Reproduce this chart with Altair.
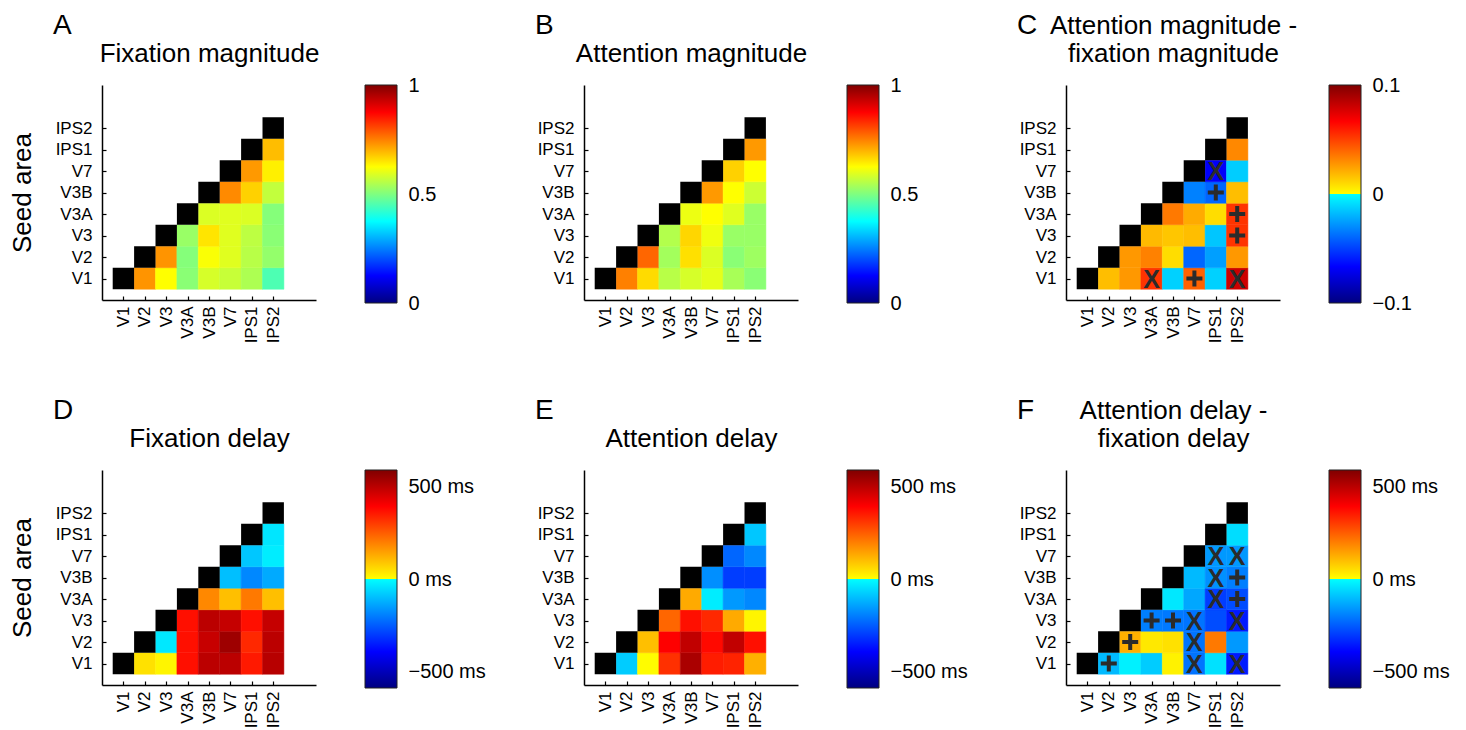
import altair as alt
import pandas as pd

FONT = "Liberation Sans"

areas = ["V1", "V2", "V3", "V3A", "V3B", "V7", "IPS1", "IPS2"]

# Row r (V1 = 0, upward) holds the values for the columns r+1 .. IPS2
fix_mag = [
    [0.73, 0.625, 0.51, 0.585, 0.57, 0.545, 0.45],
    [0.73, 0.505, 0.62, 0.595, 0.555, 0.52],
    [0.525, 0.65, 0.595, 0.56, 0.51],
    [0.59, 0.595, 0.59, 0.505],
    [0.74, 0.67, 0.565],
    [0.725, 0.64],
    [0.69],
]
att_mag = [
    [0.75, 0.66, 0.555, 0.585, 0.60, 0.54, 0.51],
    [0.775, 0.535, 0.655, 0.59, 0.51, 0.53],
    [0.55, 0.665, 0.61, 0.525, 0.525],
    [0.607, 0.625, 0.595, 0.525],
    [0.725, 0.625, 0.575],
    [0.67, 0.625],
    [0.725],
]
diff_mag = [
    [0.017, 0.027, 0.053, -0.012, 0.041, -0.012, 0.080],
    [0.027, 0.033, 0.009, -0.040, -0.025, 0.027],
    [0.018, 0.015, 0.017, -0.015, 0.053],
    [0.035, 0.022, 0.009, 0.053],
    [-0.033, -0.040, 0.017],
    [-0.068, -0.013],
    [0.031],
]
fix_delay = [
    [47, 16, 370, 498, 498, 355, 505],
    [-35, 370, 480, 543, 332, 498],
    [370, 498, 483, 370, 483],
    [184, 98, 207, 98],
    [-98, -184, -131],
    [-87, -28],
    [-39],
]
att_delay = [
    [-79, 5, 320, 525, 350, 340, 122],
    [98, 395, 490, 380, 490, 370],
    [236, 370, 332, 131, 16],
    [131, -28, -157, -184],
    [-173, -300, -300],
    [-236, -184],
    [-87],
]
diff_delay = [
    [-106, -22, -79, 20, -215, -47, -354],
    [122, 35, 47, -215, 207, -157],
    [-197, -207, -215, -276, -354],
    [-35, -135, -300, -276],
    [-106, -170, -197],
    [-157, -157],
    [-53],
]

# significance markers: (seed row, column, symbol)
marks_mag = [
    ("V1", "V3A", "X"), ("V1", "V7", "+"), ("V1", "IPS2", "X"),
    ("V3", "IPS2", "+"), ("V3A", "IPS2", "+"), ("V3B", "IPS1", "+"),
    ("V7", "IPS1", "X"),
]
marks_delay = [
    ("V1", "V2", "+"), ("V1", "V7", "X"), ("V1", "IPS2", "X"),
    ("V2", "V3", "+"), ("V2", "V7", "X"),
    ("V3", "V3A", "+"), ("V3", "V3B", "+"), ("V3", "V7", "X"), ("V3", "IPS2", "X"),
    ("V3A", "IPS1", "X"), ("V3A", "IPS2", "+"),
    ("V3B", "IPS1", "X"), ("V3B", "IPS2", "+"),
    ("V7", "IPS1", "X"), ("V7", "IPS2", "X"),
]

JET_COLORS = ["#000080", "#0000ff", "#00ffff", "#ffff00", "#ff0000", "#800000"]
JET_POS = [0, 0.125, 0.375, 0.625, 0.875, 1]
SPLIT_POS = [0, 1 / 6, 0.4999999, 0.5, 5 / 6, 1]

HW, HH = 214, 215
CB_W, CB_H = 32, 218
CB_CELL = 170          # colour-bar cell width (bar + room before next panel)
CB_LAST = 90           # last column: only the labels follow
PLUS = "M-0.25,-1H0.25V-0.25H1V0.25H0.25V1H-0.25V0.25H-1V-0.25H-0.25Z"

label_expr = "[" + ",".join("'%s'" % a for a in areas) + "][datum.value - 1]"


def heat(vals, lo, hi, pos, letter, title, seed_title, marks, letter_offset):
    cells = []
    for r, rowvals in enumerate(vals):
        for k, v in enumerate(rowvals):
            c = r + 1 + k
            cells.append(dict(x0=c + 0.5, x1=c + 1.5, y0=r + 0.5, y1=r + 1.5, v=v))
    cells = pd.DataFrame(cells)
    diag = pd.DataFrame(
        [dict(x0=i + 0.5, x1=i + 1.5, y0=i + 0.5, y1=i + 1.5) for i in range(len(areas))]
    )
    xs = alt.Scale(domain=[0, 10], nice=False, zero=False)
    ys = alt.Scale(domain=[0, 10], nice=False, zero=False)
    cscale = alt.Scale(domain=[lo + p * (hi - lo) for p in pos], range=JET_COLORS, interpolate="rgb")
    ticks = list(range(1, len(areas) + 1))

    yaxis_kw = dict(
        orient="left", values=ticks, labelExpr=label_expr, ticks=False, tickSize=0, grid=False,
        domainColor="black", domainWidth=1.5, labelFontSize=17, labelPadding=10,
        labelColor="black",
    )
    if seed_title:
        yaxis_kw.update(title=seed_title, titleFontSize=26, titlePadding=20, titleFontWeight="normal",
                        titleColor="black")
    else:
        yaxis_kw.update(title=None)

    base_cells = alt.Chart(cells).mark_rect(strokeWidth=0.5).encode(
        x=alt.X("x0:Q", scale=xs, axis=alt.Axis(
            orient="bottom", values=ticks, labelExpr=label_expr, labelAngle=-90,
            ticks=False, tickSize=0, grid=False, title=None, domainColor="black", domainWidth=1.5,
            labelFontSize=17, labelPadding=6, labelColor="black")),
        x2="x1:Q",
        y=alt.Y("y0:Q", scale=ys, axis=alt.Axis(**yaxis_kw)),
        y2="y1:Q",
        color=alt.Color("v:Q", scale=cscale, legend=None),
        stroke=alt.Stroke("v:Q", scale=cscale, legend=None),
    )
    base_diag = alt.Chart(diag).mark_rect(color="black").encode(
        x=alt.X("x0:Q", scale=xs, axis=None), x2="x1:Q",
        y=alt.Y("y0:Q", scale=ys, axis=None), y2="y1:Q",
    )
    title_layer = alt.Chart(diag).mark_rect(opacity=0).encode(
        x=alt.X("x0:Q", scale=xs, axis=alt.Axis(
            orient="top", labels=False, ticks=False, domain=False, grid=False,
            title=title, titleFontSize=26, titlePadding=19, titleFontWeight="normal",
            titleColor="black", titleLineHeight=28)),
        x2="x1:Q",
        y=alt.Y("y0:Q", scale=ys, axis=None), y2="y1:Q",
    )
    tick_layer = alt.Chart(diag).mark_rect(opacity=0).encode(
        x=alt.X("x0:Q", scale=xs, axis=alt.Axis(
            orient="bottom", offset=-4, values=ticks, labels=False, domain=False,
            grid=False, ticks=True, tickSize=4, tickColor="black", tickWidth=1.2, title=None)),
        x2="x1:Q",
        y=alt.Y("y0:Q", scale=ys, axis=alt.Axis(
            orient="left", offset=-4, values=ticks, labels=False, domain=False,
            grid=False, ticks=True, tickSize=4, tickColor="black", tickWidth=1.2, title=None)),
        y2="y1:Q",
    )
    layers = [base_cells, base_diag, title_layer, tick_layer]
    if marks:
        idx = {a: i + 1 for i, a in enumerate(areas)}
        mk = pd.DataFrame([dict(x=idx[c], y=idx[r], s=s) for r, c, s in marks])
        xmk = mk[mk.s == "X"]
        pmk = mk[mk.s == "+"]
        layers.append(alt.Chart(xmk).mark_text(
            text="X", font=FONT, fontWeight="bold", fontSize=25, color="#2b2b2b",
            baseline="middle", align="center", dy=1).encode(
            x=alt.X("x:Q", scale=xs, axis=None), y=alt.Y("y:Q", scale=ys, axis=None)))
        layers.append(alt.Chart(pmk).mark_point(
            shape=PLUS, filled=True, size=256, color="#2b2b2b", opacity=1, strokeWidth=0).encode(
            x=alt.X("x:Q", scale=xs, axis=None), y=alt.Y("y:Q", scale=ys, axis=None)))
    return alt.layer(*layers).resolve_axis(x="independent", y="independent").properties(
        width=HW, height=HH,
        title=alt.TitleParams(text=letter, anchor="start", frame="group", dx=-49,
                              fontSize=28, fontWeight="normal", offset=letter_offset,
                              color="black", font=FONT),
    )


def colorbar(lo, hi, pos, values, lab_expr, cell_w):
    df = pd.DataFrame({"lo": [lo], "hi": [hi]})
    stops = [alt.GradientStop(offset=p, color=c) for p, c in zip(pos, JET_COLORS)]
    grad = alt.LinearGradient(gradient="linear", stops=stops, x1=0, x2=0, y1=1, y2=0)
    return alt.Chart(df).mark_rect(fill=grad, stroke="#222222", strokeWidth=1).encode(
        y=alt.Y("lo:Q", scale=alt.Scale(domain=[lo, hi], nice=False, zero=False),
                axis=alt.Axis(orient="right", offset=CB_W - cell_w, values=values,
                              labelExpr=lab_expr, domain=False, ticks=False, tickSize=0,
                              grid=False, title=None, labelFontSize=20, labelPadding=11,
                              labelColor="black")),
        y2="hi:Q",
        x=alt.value(0), x2=alt.value(CB_W),
    ).properties(width=cell_w, height=CB_H)


ms = "format(datum.value, 'd') + ' ms'"
num = "format(datum.value, '~g')"

LO = 0     # letter offset above the title block
LO2 = -28  # same letter height for the two-line titles

items = [
    heat(fix_mag, 0, 1, JET_POS, "A", "Fixation magnitude", "Seed area", None, LO),
    colorbar(0, 1, JET_POS, [0, 0.5, 1], num, CB_CELL),
    heat(att_mag, 0, 1, JET_POS, "B", "Attention magnitude", None, None, LO),
    colorbar(0, 1, JET_POS, [0, 0.5, 1], num, CB_CELL),
    heat(diff_mag, -0.1, 0.1, SPLIT_POS, "C", ["Attention magnitude -", "fixation magnitude"],
         None, marks_mag, LO2),
    colorbar(-0.1, 0.1, SPLIT_POS, [-0.1, 0, 0.1], num, CB_LAST),
    heat(fix_delay, -590, 590, SPLIT_POS, "D", "Fixation delay", "Seed area", None, LO),
    colorbar(-590, 590, SPLIT_POS, [-500, 0, 500], ms, CB_CELL),
    heat(att_delay, -590, 590, SPLIT_POS, "E", "Attention delay", None, None, LO),
    colorbar(-590, 590, SPLIT_POS, [-500, 0, 500], ms, CB_CELL),
    heat(diff_delay, -590, 590, SPLIT_POS, "F", ["Attention delay -", "fixation delay"],
         None, marks_delay, LO2),
    colorbar(-590, 590, SPLIT_POS, [-500, 0, 500], ms, CB_LAST),
]

chart = alt.concat(
    *items, columns=6, spacing={"row": 167, "column": 49}, bounds="flush", align="each"
).resolve_scale(
    x="independent", y="independent", color="independent", stroke="independent"
).properties(
    padding={"left": 0, "top": 3, "right": 5, "bottom": 0}
).configure(font=FONT).configure_view(stroke="transparent").configure_axis(
    labelFont=FONT, titleFont=FONT
).configure_title(font=FONT)

chart.save("out.html", embed_options={"renderer": "svg", "actions": False})
